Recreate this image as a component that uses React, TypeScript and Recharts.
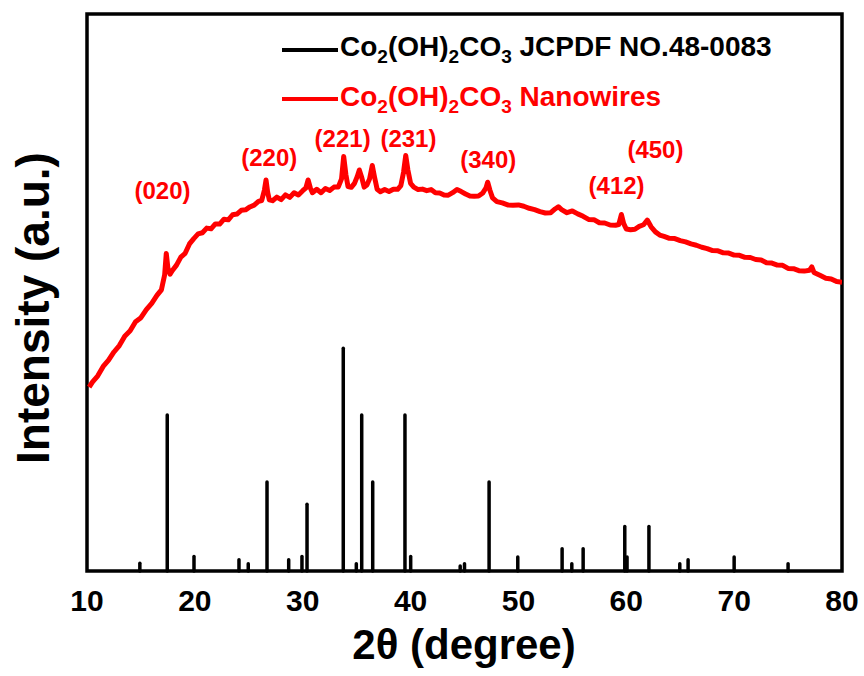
import React from "react";
import { ComposedChart, Line, XAxis, YAxis, ReferenceLine, ReferenceArea, ReferenceDot } from "recharts";

// JCPDF 48-0083 reference pattern (2θ, relative intensity)
const refTheta = [14.9, 17.44, 19.92, 24.09, 24.95, 26.69, 28.7, 29.93, 30.4, 33.76, 34.97, 35.47, 36.49, 39.48, 40.01, 44.6, 45.0, 47.28, 49.94, 54.05, 54.95, 56.0, 59.86, 60.07, 62.1, 64.96, 65.73, 70.0, 75.0];
const refIntensity = [3.5, 70, 6.5, 5, 3.2, 40, 5, 6.5, 30, 100, 3.2, 70, 40, 70, 6.5, 2.3, 3.2, 40, 6.3, 10, 3.2, 10, 20, 6.3, 20, 3.2, 5, 6.3, 3.2];

// measured nanowire scan [2θ, intensity]
const nanowireScan: [number, number][] = [
  [10.2, 82.5], [10.5, 84.8], [11.0, 87.6], [11.5, 91.8], [12.0, 94.6], [12.5, 98.3], [13.0, 101.2],
  [13.5, 105.4], [14.0, 107.8], [14.5, 111.9], [15.0, 113.7], [15.5, 117.3], [16.0, 120.1], [16.5, 123.8],
  [16.9, 126.2], [17.2, 133.0], [17.35, 142.5], [17.5, 136.0], [17.7, 133.2], [17.9, 134.8], [18.3, 137.3],
  [18.7, 140.9], [19.1, 142.6], [19.5, 146.8], [19.9, 149.2], [20.3, 151.3], [20.7, 151.8], [21.1, 153.9],
  [21.5, 153.6], [21.9, 155.8], [22.3, 155.7], [22.7, 157.9], [23.1, 157.6], [23.5, 159.9], [23.9, 160.2],
  [24.3, 161.9], [24.7, 162.1], [25.1, 163.4], [25.5, 164.2], [25.9, 165.9], [26.2, 166.3], [26.45, 171.0],
  [26.6, 175.5], [26.75, 170.0], [26.9, 166.6], [27.2, 166.2], [27.6, 167.8], [28.0, 166.7], [28.4, 168.8],
  [28.8, 167.7], [29.2, 169.8], [29.6, 168.8], [30.0, 170.7], [30.3, 172.0], [30.5, 175.5], [30.7, 172.0],
  [30.9, 169.8], [31.3, 171.3], [31.7, 169.8], [32.1, 171.7], [32.5, 170.8], [32.9, 172.3], [33.3, 172.4],
  [33.6, 176.0], [33.8, 186.0], [34.0, 178.0], [34.2, 172.5], [34.5, 172.2], [34.8, 174.0], [35.05, 177.0],
  [35.25, 180.0], [35.45, 177.0], [35.7, 172.3], [35.95, 173.2], [36.2, 176.0], [36.45, 182.0], [36.65, 177.0],
  [36.9, 171.3], [37.2, 170.2], [37.6, 171.2], [38.0, 170.3], [38.4, 171.3], [38.8, 171.3], [39.1, 173.0],
  [39.35, 179.0], [39.55, 186.5], [39.75, 180.0], [40.0, 174.0], [40.3, 172.3], [40.7, 171.2], [41.1, 171.4],
  [41.5, 170.7], [41.9, 171.2], [42.3, 169.8], [42.7, 169.7], [43.1, 168.8], [43.5, 168.7], [43.9, 169.8],
  [44.3, 171.2], [44.7, 170.3], [45.1, 169.2], [45.5, 168.3], [45.9, 168.2], [46.3, 168.3], [46.7, 169.7],
  [47.0, 172.0], [47.15, 174.5], [47.35, 171.0], [47.6, 167.5], [48.0, 165.8], [48.5, 165.2], [49.0, 164.3],
  [49.5, 164.2], [50.0, 164.3], [50.5, 163.7], [51.0, 162.8], [51.5, 162.2], [52.0, 161.3], [52.5, 160.7],
  [53.0, 160.8], [53.4, 162.5], [53.7, 163.5], [54.0, 162.2], [54.5, 160.8], [55.0, 161.6], [55.5, 160.3],
  [56.0, 159.2], [56.5, 157.8], [57.0, 157.7], [57.5, 156.3], [58.0, 156.2], [58.5, 155.3], [59.0, 155.2],
  [59.3, 155.5], [59.55, 160.0], [59.75, 156.0], [60.0, 153.5], [60.4, 153.2], [60.8, 153.4], [61.2, 154.7],
  [61.6, 155.4], [61.95, 157.5], [62.3, 154.5], [62.7, 152.2], [63.1, 150.8], [63.5, 150.2], [64.0, 149.3],
  [64.5, 149.2], [65.0, 148.3], [65.5, 147.7], [66.0, 146.8], [66.5, 146.2], [67.0, 145.3], [67.5, 144.7],
  [68.0, 143.8], [68.5, 143.7], [69.0, 142.8], [69.5, 142.7], [70.0, 141.8], [70.5, 141.7], [71.0, 140.8],
  [71.5, 140.7], [72.0, 139.8], [72.5, 139.6], [73.0, 138.4], [73.5, 138.2], [74.0, 137.3], [74.5, 137.2],
  [75.0, 135.8], [75.5, 135.7], [76.0, 134.8], [76.5, 134.6], [77.0, 135.0], [77.2, 136.5], [77.4, 134.0],
  [78.0, 132.6], [78.5, 131.4], [79.0, 131.1], [79.5, 129.9], [80.0, 129.6],
];

const hklLabels = ["(020)", "(220)", "(221)", "(231)", "(340)", "(412)", "(450)"];
const hklTheta = [17.0, 26.9, 33.7, 39.8, 47.2, 59.1, 62.7];
const hklLevel = [171, 185.4, 194.3, 194.3, 184.5, 173.2, 189.4];

const xTicks = [10, 20, 30, 40, 50, 60, 70, 80];

const FONT = "Arial, 'Liberation Sans', Helvetica, sans-serif";
const RED = "#ff0000";

const scanData = nanowireScan.map(([theta, counts]) => ({ theta, counts }));

const Formula = ({ size }: { size: number }) => {
  const sub = { fontSize: size * 0.68, verticalAlign: "sub" as const, lineHeight: 0 };
  return (
    <>
      Co<span style={sub}>2</span>(OH)<span style={sub}>2</span>CO<span style={sub}>3</span>
    </>
  );
};

export default function App() {
  return (
    <div style={{ position: "absolute", left: 0, top: 0, width: 864, height: 676, background: "#fff", fontFamily: FONT }}>
      <ComposedChart width={864} height={676} margin={{ top: 14, right: 22, left: 87, bottom: 65 }}>
        <XAxis
          dataKey="theta"
          type="number"
          domain={[10, 80]}
          ticks={xTicks}
          allowDataOverflow
          axisLine={false}
          tickLine={false}
          tickSize={0}
          tickMargin={19}
          height={40}
          tick={{ fontSize: 30, fontWeight: "bold", fill: "#000", fontFamily: FONT }}
        />
        <YAxis hide type="number" domain={[0, 250]} allowDataOverflow />
        {refTheta.map((t, i) => (
          <ReferenceLine
            key={`ref-${i}`}
            segment={[{ x: t, y: 0 }, { x: t, y: refIntensity[i] }]}
            stroke="#000"
            strokeWidth={3.5}
            strokeLinecap="round"
          />
        ))}
        <Line
          data={scanData}
          dataKey="counts"
          type="linear"
          stroke={RED}
          strokeWidth={5}
          dot={false}
          isAnimationActive={false}
          strokeLinejoin="round"
        />
        {hklLabels.map((lab, i) => (
          <ReferenceDot
            key={`hkl-${i}`}
            x={hklTheta[i]}
            y={hklLevel[i]}
            r={0}
            stroke="none"
            fill="none"
            label={{ value: lab, position: "center", fill: RED, fontSize: 24, fontWeight: "bold", fontFamily: FONT }}
          />
        ))}
        <ReferenceArea x1={10} x2={80} y1={0} y2={250} fill="none" stroke="#000" strokeWidth={3.5} />
      </ComposedChart>

      {/* legend */}
      <div style={{ position: "absolute", left: 282, top: 48, width: 56, height: 4, background: "#000" }} />
      <div style={{ position: "absolute", left: 340, top: 33, fontSize: 28, lineHeight: "28px", fontWeight: "bold", color: "#000", whiteSpace: "nowrap" }}>
        <Formula size={28} /> JCPDF NO.48-0083
      </div>
      <div style={{ position: "absolute", left: 282, top: 97, width: 56, height: 4, background: RED }} />
      <div style={{ position: "absolute", left: 340, top: 83, fontSize: 28, lineHeight: "28px", fontWeight: "bold", color: RED, whiteSpace: "nowrap" }}>
        <Formula size={28} /> Nanowires
      </div>

      {/* axis titles */}
      <div style={{ position: "absolute", left: 464, top: 645, transform: "translate(-50%, -50%)", fontSize: 42, fontWeight: "bold", whiteSpace: "nowrap" }}>
        2θ (degree)
      </div>
      <div style={{ position: "absolute", left: 33, top: 308, transform: "translate(-50%, -50%) rotate(-90deg)", fontSize: 46, fontWeight: "bold", whiteSpace: "nowrap" }}>
        Intensity (a.u.)
      </div>
    </div>
  );
}
